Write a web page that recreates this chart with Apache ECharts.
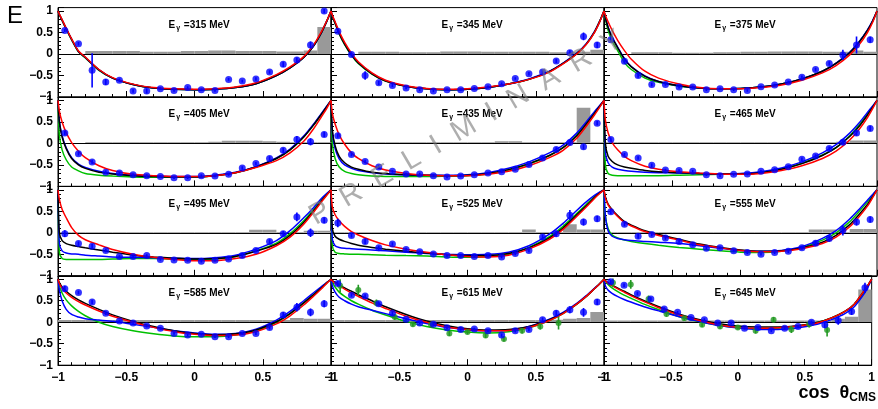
<!DOCTYPE html>
<html>
<head>
<meta charset="utf-8">
<script src="https://cdn.jsdelivr.net/npm/echarts@6/dist/echarts.min.js"></script>
<style>
  html, body { margin: 0; padding: 0; background: #fff; }
  #chart { width: 878px; height: 409px; }
</style>
</head>
<body>
<div id="chart"></div>
<script>
// bin centres of the measured points (cos theta_CMS)
const COS = [-0.95,-0.85,-0.75,-0.65,-0.55,-0.45,-0.35,-0.25,-0.15,-0.05,0.05,0.15,0.25,0.35,0.45,0.55,0.65,0.75,0.85,0.95];
// second (green) data set, coarser binning
const GCOS = [-0.933,-0.8,-0.667,-0.533,-0.4,-0.267,-0.133,0,0.133,0.267,0.4,0.533,0.667];
// sampling points of the model curves
const CX = [-1,-0.99,-0.97,-0.94,-0.9,-0.85,-0.8,-0.7,-0.6,-0.45,-0.3,-0.15,0,0.15,0.3,0.45,0.6,0.7,0.8,0.87,0.93,0.97,1];

const ENERGIES = [315,345,375,405,435,465,495,525,555,585,615,645];

// ---- 315 MeV
const pts315 = [0.55,0.24,-0.38,-0.65,-0.61,-0.86,-0.86,-0.81,-0.85,-0.78,-0.83,-0.85,-0.59,-0.63,-0.58,-0.42,-0.24,-0.14,0.21,1.0];
const err315 = [0.04,0.04,0.4,0.07,0.04,0.04,0.06,0.03,0.03,0.03,0.03,0.03,0.03,0.03,0.04,0.04,0.06,0.06,0.08,0.05];
const bkg315 = [0,0,0.07,0.07,0.07,0.07,0.05,0.05,0.05,0.07,0.07,0.08,0.08,0.07,0.07,0.07,0.06,0.06,0.08,0.63];
const blk315 = [1,0.92,0.79,0.59,0.34,0.06,-0.08,-0.37,-0.56,-0.71,-0.79,-0.82,-0.83,-0.82,-0.78,-0.69,-0.5,-0.32,-0.08,0.18,0.5,0.77,1];
const red315 = [1,0.93,0.8,0.6,0.35,0.07,-0.07,-0.36,-0.55,-0.7,-0.78,-0.81,-0.82,-0.81,-0.77,-0.67,-0.48,-0.3,-0.06,0.2,0.52,0.78,1];
const blu315 = [1,0.92,0.79,0.59,0.34,0.06,-0.08,-0.37,-0.56,-0.71,-0.79,-0.82,-0.83,-0.82,-0.78,-0.69,-0.5,-0.32,-0.08,0.18,0.5,0.77,1];
const grn315 = [1,0.92,0.78,0.58,0.33,0.05,-0.09,-0.38,-0.56,-0.71,-0.79,-0.82,-0.83,-0.82,-0.78,-0.69,-0.5,-0.32,-0.08,0.18,0.5,0.77,1];

// ---- 345 MeV
const pts345 = [0.53,-0.01,-0.5,-0.67,-0.73,-0.79,-0.83,-0.86,-0.83,-0.83,-0.8,-0.76,-0.69,-0.57,-0.46,-0.42,-0.16,0.03,0.41,0.21];
const err345 = [0.04,0.04,0.1,0.05,0.04,0.03,0.03,0.03,0.03,0.03,0.03,0.03,0.03,0.03,0.04,0.04,0.05,0.06,0.09,0.07];
const bkg345 = [0,0,0.05,0.05,0.05,0.04,0.04,0.04,0.06,0.06,0.06,0.05,0.05,0.05,0.05,0.05,0.04,0.04,0.05,0.1];
const blk345 = [1,0.88,0.72,0.48,0.23,-0.02,-0.21,-0.46,-0.63,-0.75,-0.81,-0.83,-0.82,-0.78,-0.7,-0.59,-0.41,-0.22,0.01,0.23,0.51,0.77,1];
const red345 = [1,0.9,0.75,0.52,0.27,0.02,-0.18,-0.44,-0.61,-0.74,-0.8,-0.82,-0.81,-0.77,-0.7,-0.59,-0.42,-0.23,0.0,0.22,0.5,0.76,1];
const blu345 = [1,0.88,0.73,0.49,0.24,-0.01,-0.2,-0.45,-0.62,-0.75,-0.81,-0.83,-0.82,-0.78,-0.7,-0.58,-0.4,-0.21,0.02,0.24,0.52,0.77,1];
const grn345 = [1,0.87,0.71,0.47,0.22,-0.03,-0.22,-0.47,-0.63,-0.75,-0.81,-0.83,-0.82,-0.78,-0.7,-0.59,-0.41,-0.22,0.01,0.23,0.51,0.77,1];

// ---- 375 MeV
const pts375 = [0.33,-0.17,-0.5,-0.71,-0.71,-0.77,-0.77,-0.83,-0.81,-0.83,-0.85,-0.76,-0.72,-0.65,-0.54,-0.36,-0.22,-0.02,0.21,0.33];
const err375 = [0.05,0.05,0.05,0.04,0.03,0.03,0.03,0.03,0.03,0.03,0.03,0.03,0.03,0.03,0.04,0.04,0.05,0.12,0.2,0.07];
const bkg375 = [0,0,0.04,0.04,0.04,0.03,0.03,0.03,0.04,0.04,0.05,0.05,0.06,0.06,0.06,0.06,0.05,0.05,0.08,0.05];
const blk375 = [1,0.85,0.62,0.38,0.15,-0.12,-0.3,-0.52,-0.64,-0.74,-0.79,-0.81,-0.8,-0.77,-0.7,-0.58,-0.4,-0.22,0.03,0.28,0.55,0.78,1];
const red375 = [1,0.9,0.75,0.55,0.32,0.08,-0.12,-0.4,-0.56,-0.7,-0.78,-0.81,-0.81,-0.78,-0.72,-0.61,-0.44,-0.27,-0.02,0.22,0.5,0.75,1];
const blu375 = [1,0.85,0.63,0.39,0.16,-0.11,-0.29,-0.51,-0.64,-0.74,-0.79,-0.81,-0.8,-0.77,-0.7,-0.58,-0.4,-0.21,0.04,0.29,0.56,0.79,1];
const grn375 = [1,0.82,0.55,0.3,0.08,-0.2,-0.36,-0.56,-0.66,-0.75,-0.79,-0.81,-0.8,-0.77,-0.7,-0.58,-0.4,-0.22,0.03,0.28,0.55,0.78,1];

// ---- 405 MeV
const pts405 = [0.24,-0.24,-0.43,-0.67,-0.69,-0.73,-0.75,-0.77,-0.8,-0.8,-0.75,-0.76,-0.72,-0.57,-0.47,-0.35,-0.16,0.09,0.04,0.21];
const err405 = [0.05,0.04,0.05,0.04,0.03,0.03,0.03,0.03,0.03,0.03,0.03,0.03,0.03,0.04,0.04,0.05,0.06,0.08,0.08,0.06];
const bkg405 = [0,0,0.03,0.03,0.03,0.03,0.03,0.03,0.03,0.03,0.03,0.04,0.06,0.06,0.06,0.05,0.04,0.03,0.03,0.03];
const blk405 = [1,0.5,0.15,-0.12,-0.35,-0.5,-0.58,-0.67,-0.71,-0.75,-0.77,-0.78,-0.78,-0.75,-0.68,-0.55,-0.35,-0.15,0.15,0.42,0.68,0.86,1];
const red405 = [1,0.75,0.5,0.25,0.02,-0.18,-0.33,-0.52,-0.63,-0.72,-0.75,-0.77,-0.77,-0.75,-0.68,-0.56,-0.4,-0.22,0.05,0.33,0.62,0.82,1];
const blu405 = [1,0.52,0.18,-0.1,-0.33,-0.48,-0.56,-0.65,-0.7,-0.74,-0.76,-0.77,-0.77,-0.74,-0.67,-0.54,-0.34,-0.13,0.17,0.44,0.7,0.87,1];
const grn405 = [1,0.2,-0.15,-0.38,-0.55,-0.64,-0.7,-0.74,-0.76,-0.78,-0.79,-0.79,-0.78,-0.75,-0.68,-0.55,-0.35,-0.15,0.15,0.42,0.68,0.86,1];

// ---- 435 MeV
const pts435 = [0.18,-0.26,-0.42,-0.55,-0.65,-0.71,-0.71,-0.75,-0.78,-0.76,-0.73,-0.69,-0.66,-0.6,-0.49,-0.34,-0.14,0.02,-0.08,0.47];
const err435 = [0.05,0.04,0.04,0.04,0.03,0.03,0.03,0.03,0.03,0.03,0.03,0.03,0.03,0.03,0.04,0.04,0.05,0.06,0.06,0.05];
const bkg435 = [0.03,0.03,0.03,0.03,0.03,0.03,0.03,0.03,0.03,0.03,0.03,0.03,0.05,0.05,0.03,0.03,0.03,0.03,0.83,0.03];
const blk435 = [1,0.3,-0.05,-0.3,-0.45,-0.55,-0.6,-0.67,-0.7,-0.73,-0.74,-0.75,-0.74,-0.7,-0.61,-0.47,-0.28,-0.1,0.18,0.45,0.7,0.87,1];
const red435 = [1,0.7,0.45,0.2,-0.02,-0.22,-0.35,-0.52,-0.62,-0.7,-0.74,-0.75,-0.75,-0.72,-0.65,-0.52,-0.33,-0.16,0.12,0.4,0.66,0.85,1];
const blu435 = [1,0.25,-0.12,-0.36,-0.5,-0.58,-0.63,-0.68,-0.71,-0.73,-0.74,-0.74,-0.73,-0.68,-0.58,-0.43,-0.22,-0.04,0.24,0.5,0.74,0.89,1];
const grn435 = [1,0.0,-0.35,-0.55,-0.65,-0.7,-0.73,-0.76,-0.77,-0.77,-0.77,-0.76,-0.75,-0.71,-0.62,-0.48,-0.28,-0.1,0.19,0.46,0.71,0.87,1];

// ---- 465 MeV
const pts465 = [0.09,-0.26,-0.34,-0.51,-0.62,-0.63,-0.65,-0.73,-0.75,-0.72,-0.71,-0.65,-0.61,-0.54,-0.37,-0.29,-0.12,0.03,0.24,0.35];
const err465 = [0.05,0.04,0.04,0.04,0.03,0.03,0.03,0.03,0.03,0.03,0.03,0.03,0.03,0.03,0.04,0.04,0.05,0.06,0.06,0.06];
const bkg465 = [0.03,0.03,0.03,0.03,0.03,0.03,0.03,0.03,0.03,0.03,0.03,0.03,0.03,0.03,0.03,0.03,0.03,0.04,0.07,0.07];
const blk465 = [1,0.0,-0.3,-0.42,-0.5,-0.55,-0.58,-0.63,-0.66,-0.68,-0.7,-0.71,-0.71,-0.68,-0.6,-0.47,-0.28,-0.1,0.16,0.4,0.66,0.85,1];
const red465 = [1,0.55,0.25,0.02,-0.15,-0.3,-0.4,-0.53,-0.6,-0.66,-0.69,-0.71,-0.72,-0.7,-0.63,-0.52,-0.35,-0.18,0.08,0.33,0.6,0.82,1];
const blu465 = [1,-0.2,-0.45,-0.55,-0.6,-0.63,-0.65,-0.67,-0.68,-0.69,-0.7,-0.71,-0.7,-0.66,-0.57,-0.43,-0.22,-0.03,0.24,0.48,0.72,0.88,1];
const grn465 = [1,-0.5,-0.7,-0.74,-0.75,-0.75,-0.75,-0.75,-0.75,-0.74,-0.73,-0.72,-0.71,-0.68,-0.6,-0.46,-0.27,-0.1,0.18,0.43,0.68,0.86,1];

// ---- 495 MeV
const pts495 = [-0.02,-0.25,-0.31,-0.41,-0.55,-0.55,-0.53,-0.62,-0.63,-0.64,-0.66,-0.64,-0.61,-0.53,-0.41,-0.2,-0.02,0.37,0.0,0.29];
const err495 = [0.08,0.05,0.05,0.04,0.03,0.03,0.03,0.03,0.03,0.03,0.03,0.03,0.03,0.04,0.04,0.05,0.06,0.1,0.1,0.07];
const bkg495 = [0.02,0.02,0.02,0.02,0.02,0.02,0.02,0.02,0.02,0.02,0.02,0.02,0.02,0.02,0.07,0.07,0.02,0.02,0.05,0.05];
const blk495 = [1,0.0,-0.18,-0.25,-0.29,-0.32,-0.35,-0.4,-0.45,-0.52,-0.56,-0.59,-0.61,-0.6,-0.55,-0.43,-0.27,-0.06,0.24,0.5,0.74,0.89,1];
const red495 = [1,0.78,0.55,0.35,0.12,-0.06,-0.16,-0.28,-0.39,-0.5,-0.57,-0.62,-0.65,-0.65,-0.6,-0.5,-0.3,-0.1,0.2,0.47,0.72,0.88,1];
const blu495 = [1,-0.25,-0.42,-0.47,-0.49,-0.5,-0.52,-0.54,-0.56,-0.57,-0.58,-0.59,-0.6,-0.58,-0.52,-0.38,-0.18,0.05,0.35,0.58,0.8,0.92,1];
const grn495 = [1,-0.45,-0.6,-0.62,-0.62,-0.62,-0.62,-0.62,-0.61,-0.6,-0.6,-0.61,-0.62,-0.61,-0.55,-0.42,-0.24,-0.02,0.28,0.53,0.76,0.9,1];

// ---- 525 MeV
const pts525 = [0.23,-0.06,-0.2,-0.35,-0.26,-0.39,-0.44,-0.49,-0.53,-0.53,-0.55,-0.53,-0.56,-0.48,-0.41,-0.1,-0.02,0.41,0.25,0.33];
const err525 = [0.1,0.05,0.06,0.05,0.04,0.04,0.03,0.03,0.03,0.03,0.03,0.03,0.03,0.04,0.04,0.06,0.07,0.12,0.08,0.07];
const bkg525 = [0.02,0.02,0.02,0.02,0.02,0.02,0.02,0.02,0.02,0.02,0.02,0.02,0.02,0.02,0.08,0.02,0.02,0.2,0.08,0.08];
const blk525 = [1,0.1,-0.08,-0.15,-0.2,-0.25,-0.29,-0.34,-0.38,-0.43,-0.47,-0.51,-0.53,-0.53,-0.48,-0.35,-0.12,0.11,0.42,0.63,0.82,0.93,1];
const red525 = [1,0.6,0.42,0.28,0.15,0.03,-0.05,-0.18,-0.28,-0.38,-0.45,-0.51,-0.55,-0.56,-0.52,-0.38,-0.15,0.08,0.38,0.6,0.8,0.92,1];
const blu525 = [1,-0.15,-0.3,-0.34,-0.36,-0.37,-0.38,-0.4,-0.42,-0.45,-0.48,-0.5,-0.51,-0.5,-0.45,-0.3,-0.03,0.22,0.52,0.72,0.87,0.95,1];
const grn525 = [1,-0.3,-0.45,-0.48,-0.49,-0.5,-0.5,-0.51,-0.52,-0.53,-0.54,-0.56,-0.57,-0.55,-0.5,-0.34,-0.09,0.15,0.45,0.66,0.84,0.94,1];

// ---- 555 MeV
const pts555 = [0.49,0.2,-0.08,-0.04,-0.12,-0.2,-0.28,-0.36,-0.35,-0.42,-0.46,-0.5,-0.46,-0.43,-0.35,-0.24,-0.13,0.06,0.25,0.31];
const err555 = [0.06,0.05,0.06,0.04,0.04,0.03,0.03,0.03,0.03,0.03,0.03,0.03,0.03,0.04,0.04,0.06,0.07,0.12,0.08,0.07];
const bkg555 = [0.02,0.02,0.02,0.02,0.02,0.02,0.02,0.02,0.02,0.02,0.02,0.02,0.02,0.02,0.02,0.08,0.08,0.02,0.09,0.09];
const blk555 = [1,0.84,0.67,0.54,0.4,0.26,0.18,0.05,-0.04,-0.15,-0.26,-0.34,-0.4,-0.43,-0.42,-0.35,-0.22,-0.06,0.19,0.43,0.66,0.85,1];
const red555 = [1,0.82,0.65,0.52,0.38,0.24,0.16,0.03,-0.06,-0.17,-0.28,-0.35,-0.41,-0.44,-0.43,-0.37,-0.25,-0.1,0.14,0.38,0.62,0.83,1];
const blu555 = [1,0.4,0.05,-0.08,-0.13,-0.16,-0.18,-0.2,-0.22,-0.25,-0.3,-0.36,-0.41,-0.43,-0.41,-0.32,-0.13,0.05,0.32,0.55,0.76,0.9,1];
const grn555 = [1,0.4,0.1,-0.05,-0.12,-0.17,-0.2,-0.25,-0.29,-0.34,-0.38,-0.42,-0.45,-0.46,-0.43,-0.34,-0.17,0.0,0.26,0.5,0.72,0.88,1];

// ---- 585 MeV
const pts585 = [0.78,0.69,0.47,0.21,0.03,-0.02,-0.09,-0.14,-0.26,-0.3,-0.28,-0.34,-0.34,-0.26,-0.26,-0.12,0.17,0.35,0.23,0.43];
const err585 = [0.07,0.04,0.05,0.04,0.03,0.03,0.03,0.03,0.03,0.03,0.03,0.03,0.03,0.03,0.04,0.05,0.07,0.1,0.09,0.08];
const bkg585 = [0.05,0.05,0.05,0.05,0.05,0.05,0.05,0.05,0.05,0.05,0.05,0.05,0.05,0.05,0.05,0.05,0.05,0.1,0.08,0.08];
const blk585 = [1,0.92,0.82,0.72,0.62,0.52,0.44,0.3,0.17,0.02,-0.1,-0.2,-0.26,-0.29,-0.27,-0.18,0.01,0.2,0.45,0.63,0.8,0.92,1];
const red585 = [1,0.9,0.79,0.68,0.58,0.48,0.4,0.26,0.14,0.0,-0.12,-0.22,-0.28,-0.31,-0.3,-0.22,-0.04,0.15,0.4,0.6,0.78,0.91,1];
const blu585 = [1,0.75,0.5,0.3,0.18,0.12,0.08,0.05,0.02,-0.05,-0.12,-0.2,-0.25,-0.28,-0.26,-0.16,0.05,0.25,0.5,0.68,0.83,0.93,1];
const grn585 = [1,0.85,0.68,0.52,0.38,0.25,0.15,0.0,-0.1,-0.2,-0.27,-0.32,-0.34,-0.34,-0.3,-0.2,0.0,0.2,0.45,0.64,0.8,0.92,1];

// ---- 615 MeV
const pts615 = [0.9,0.63,0.61,0.43,0.21,0.07,-0.02,-0.05,-0.13,-0.17,-0.16,-0.2,-0.3,-0.2,-0.17,0.06,0.21,0.29,0.23,0.47];
const err615 = [0.06,0.04,0.04,0.04,0.04,0.03,0.03,0.03,0.03,0.03,0.03,0.03,0.04,0.04,0.04,0.05,0.07,0.08,0.1,0.07];
const bkg615 = [0.05,0.05,0.05,0.05,0.05,0.05,0.05,0.05,0.05,0.05,0.05,0.05,0.05,0.05,0.05,0.05,0.06,0.08,0.1,0.24];
const blk615 = [1,0.97,0.93,0.87,0.8,0.72,0.64,0.5,0.36,0.18,0.03,-0.08,-0.15,-0.18,-0.17,-0.1,0.06,0.21,0.42,0.6,0.78,0.9,1];
const red615 = [1,0.96,0.91,0.85,0.77,0.68,0.6,0.45,0.32,0.14,0.0,-0.11,-0.17,-0.2,-0.19,-0.12,0.04,0.2,0.42,0.6,0.78,0.9,1];
const blu615 = [1,0.85,0.7,0.58,0.5,0.42,0.36,0.28,0.2,0.08,-0.03,-0.12,-0.18,-0.2,-0.18,-0.1,0.07,0.23,0.44,0.62,0.79,0.9,1];
const grn615 = [1,0.92,0.82,0.7,0.6,0.5,0.42,0.28,0.17,0.02,-0.1,-0.18,-0.23,-0.25,-0.22,-0.13,0.04,0.2,0.42,0.6,0.78,0.9,1];
const gpts615 = [0.85,0.75,0.45,0.12,-0.05,-0.06,-0.26,-0.23,-0.31,-0.39,-0.2,-0.1,-0.02];
const gerr615 = [0.15,0.12,0.08,0.06,0.05,0.05,0.06,0.05,0.06,0.06,0.06,0.07,0.15];

// ---- 645 MeV
const pts645 = [0.94,0.86,0.67,0.54,0.31,0.23,0.11,0.06,-0.02,-0.02,-0.14,-0.12,-0.2,-0.14,-0.1,0.0,-0.06,0.04,0.25,0.8];
const err645 = [0.05,0.04,0.04,0.04,0.04,0.03,0.03,0.03,0.03,0.03,0.03,0.03,0.03,0.03,0.03,0.04,0.08,0.1,0.08,0.12];
const bkg645 = [0.04,0.04,0.04,0.04,0.04,0.04,0.04,0.04,0.04,0.04,0.04,0.04,0.04,0.04,0.04,0.04,0.04,0.08,0.13,0.76];
const blk645 = [1,0.97,0.92,0.86,0.8,0.72,0.64,0.5,0.37,0.2,0.07,-0.03,-0.09,-0.11,-0.11,-0.08,0.0,0.1,0.25,0.42,0.67,0.85,1];
const red645 = [1,0.96,0.91,0.85,0.78,0.7,0.62,0.48,0.35,0.18,0.05,-0.06,-0.12,-0.14,-0.13,-0.09,-0.01,0.1,0.25,0.42,0.67,0.85,1];
const blu645 = [1,0.85,0.75,0.67,0.6,0.53,0.47,0.36,0.27,0.14,0.03,-0.07,-0.13,-0.17,-0.17,-0.13,-0.04,0.06,0.2,0.36,0.6,0.8,1];
const grn645 = [1,0.95,0.88,0.8,0.72,0.63,0.56,0.42,0.3,0.14,0.02,-0.07,-0.13,-0.15,-0.14,-0.09,0.0,0.1,0.25,0.42,0.65,0.84,1];
const gpts645 = [0.92,0.88,0.54,0.19,0.09,-0.06,-0.1,-0.12,-0.2,0.06,-0.17,-0.05,-0.18];
const gerr645 = [0.1,0.1,0.08,0.06,0.05,0.05,0.05,0.05,0.06,0.06,0.08,0.07,0.15];

const PANELS = [
  {pts: pts315, err: err315, bkg: bkg315, curves: [grn315, blu315, blk315, red315]},
  {pts: pts345, err: err345, bkg: bkg345, curves: [grn345, blu345, blk345, red345]},
  {pts: pts375, err: err375, bkg: bkg375, curves: [grn375, blu375, blk375, red375]},
  {pts: pts405, err: err405, bkg: bkg405, curves: [grn405, blu405, blk405, red405]},
  {pts: pts435, err: err435, bkg: bkg435, curves: [grn435, blu435, blk435, red435]},
  {pts: pts465, err: err465, bkg: bkg465, curves: [grn465, blu465, blk465, red465]},
  {pts: pts495, err: err495, bkg: bkg495, curves: [grn495, blu495, blk495, red495]},
  {pts: pts525, err: err525, bkg: bkg525, curves: [grn525, blu525, blk525, red525]},
  {pts: pts555, err: err555, bkg: bkg555, curves: [grn555, blu555, blk555, red555]},
  {pts: pts585, err: err585, bkg: bkg585, curves: [grn585, blu585, blk585, red585]},
  {pts: pts615, err: err615, bkg: bkg615, curves: [grn615, blu615, blk615, red615], gpts: gpts615, gerr: gerr615},
  {pts: pts645, err: err645, bkg: bkg645, curves: [grn645, blu645, blk645, red645], gpts: gpts645, gerr: gerr645}
];

const CURVE_COLORS = ['#00c000', '#0000ff', '#000000', '#ff0000'];
const FONT = 'Liberation Sans, Arial, Helvetica, sans-serif';

// pad layout (pixels)
const COL_LEFT = [58, 331, 604];
const PAD_W = 273;
const ROW_TOP = [7.6, 97, 186.4, 275.8];
const PAD_H = 89.4;

const fmt = v => (v < 0 ? '\u2212' : '') + Math.abs(v);

function histItem(params, api) {
  const a = api.coord([api.value(0), api.value(2)]);
  const b = api.coord([api.value(1), 0]);
  return {
    type: 'rect',
    shape: {x: a[0], y: a[1], width: b[0] - a[0], height: b[1] - a[1]},
    style: {fill: '#999999'}
  };
}

function errItem(params, api) {
  const x = api.value(0), y = api.value(1), e = api.value(2);
  const p0 = api.coord([x, y - e]);
  const p1 = api.coord([x, y + e]);
  return {
    type: 'line',
    shape: {x1: p0[0], y1: p0[1], x2: p1[0], y2: p1[1]},
    style: {stroke: api.visual('color'), lineWidth: 1.6}
  };
}

const grid = [], xAxis = [], yAxis = [], series = [], title = [];

PANELS.forEach((p, i) => {
  const row = Math.floor(i / 3), col = i % 3;
  grid.push({
    left: COL_LEFT[col], top: ROW_TOP[row], width: PAD_W, height: PAD_H,
    show: true, borderColor: '#000', borderWidth: 1, backgroundColor: 'transparent'
  });
  xAxis.push({
    gridIndex: i, type: 'value', min: -1, max: 1, interval: 0.5,
    axisLine: {onZero: false, lineStyle: {color: '#000', width: 1}},
    axisTick: {inside: true, length: 6, lineStyle: {color: '#000'}},
    minorTick: {show: true, splitNumber: 5, length: 3, lineStyle: {color: '#000'}},
    splitLine: {show: false},
    axisLabel: {
      show: row === 3, margin: 6, color: '#000', fontFamily: FONT,
      fontWeight: 'bold', fontSize: 12, formatter: fmt
    }
  });
  yAxis.push({
    gridIndex: i, type: 'value', min: -1, max: 1.08, interval: 0.5,
    axisLine: {onZero: false, lineStyle: {color: '#000', width: 1}},
    axisTick: {inside: true, length: 6, lineStyle: {color: '#000'}},
    minorTick: {show: true, splitNumber: 5, length: 3, lineStyle: {color: '#000'}},
    splitLine: {show: false},
    axisLabel: {
      show: col === 0, margin: 5, color: '#000', fontFamily: FONT,
      fontWeight: 'bold', fontSize: 12, showMaxLabel: false, formatter: fmt
    }
  });

  // gray histogram
  series.push({
    type: 'custom', xAxisIndex: i, yAxisIndex: i, clip: true,
    renderItem: histItem, encode: {x: [0, 1], y: 2},
    data: p.bkg.map((h, k) => [COS[k] - 0.05, COS[k] + 0.05, h]),
    z: 1, silent: true
  });

  // model curves
  p.curves.forEach((c, j) => {
    const s = {
      type: 'line', xAxisIndex: i, yAxisIndex: i,
      data: CX.map((x, k) => [x, c[k]]),
      showSymbol: false, smooth: 0.25, clip: true,
      lineStyle: {color: CURVE_COLORS[j], width: 1.5},
      itemStyle: {color: CURVE_COLORS[j]},
      z: 3 + j, silent: true
    };
    if (j === 0) {
      s.markLine = {
        silent: true, symbol: 'none', label: {show: false},
        lineStyle: {color: '#000', width: 1, type: 'solid'},
        data: [{yAxis: 0}], z: 2
      };
    }
    series.push(s);
  });

  // green data set
  if (p.gpts) {
    series.push({
      type: 'custom', xAxisIndex: i, yAxisIndex: i, clip: true,
      renderItem: errItem, encode: {x: 0, y: 1},
      itemStyle: {color: '#229922'},
      data: GCOS.map((x, k) => [x, p.gpts[k], p.gerr[k]]), z: 8, silent: true
    });
    series.push({
      type: 'scatter', xAxisIndex: i, yAxisIndex: i,
      data: GCOS.map((x, k) => [x, p.gpts[k]]),
      symbolSize: 6, itemStyle: {color: '#229922'}, z: 9, silent: true
    });
  }

  // blue measured points
  series.push({
    type: 'custom', xAxisIndex: i, yAxisIndex: i, clip: true,
    renderItem: errItem, encode: {x: 0, y: 1},
    itemStyle: {color: '#0000ff'},
    data: COS.map((x, k) => [x, p.pts[k], p.err[k]]), z: 10, silent: true
  });
  series.push({
    type: 'scatter', xAxisIndex: i, yAxisIndex: i,
    data: COS.map((x, k) => [x, p.pts[k]]),
    symbolSize: 7, itemStyle: {color: '#0000ff'}, z: 11, silent: true
  });

  title.push({
    text: '{b|E}{s|\u03b3}{b| =' + ENERGIES[i] + ' MeV}',
    left: COL_LEFT[col] + PAD_W / 2 - 31, top: ROW_TOP[row] + 6,
    textStyle: {
      rich: {
        b: {fontFamily: FONT, fontWeight: 'bold', fontSize: 10, color: '#000'},
        s: {fontFamily: FONT, fontWeight: 'bold', fontSize: 7, color: '#000', padding: [6, 1, 0, 1]}
      }
    }
  });
});

const chart = echarts.init(document.getElementById('chart'), null, {renderer: 'canvas'});
chart.setOption({
  animation: false,
  backgroundColor: '#fff',
  title: title,
  grid: grid,
  xAxis: xAxis,
  yAxis: yAxis,
  series: series,
  graphic: [
    {
      type: 'text', left: 7, top: 4, z: 50,
      style: {text: 'E', font: '24px ' + FONT, fill: '#000'}
    },
    {
      type: 'text', right: 2, top: 384, z: 50,
      style: {
        text: '{a|cos  \u03b8}{c|CMS}',
        rich: {
          a: {fontFamily: FONT, fontWeight: 'bold', fontSize: 18, fill: '#000'},
          c: {fontFamily: FONT, fontWeight: 'bold', fontSize: 12, fill: '#000', padding: [10, 0, 0, 0]}
        }
      }
    },
    {
      type: 'text', x: 466, y: 128, rotation: 0.53, z: 60,
      style: {
        text: 'P  R  E  L  I  M  I  N  A  R  Y',
        font: '29px ' + FONT, fill: 'rgba(120,120,120,0.6)',
        align: 'center', verticalAlign: 'middle'
      }
    }
  ]
});
</script>
</body>
</html>
